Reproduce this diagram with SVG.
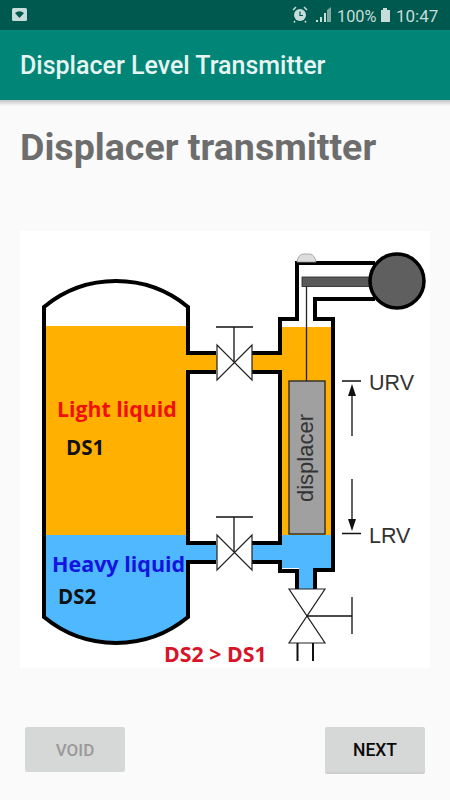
<svg xmlns="http://www.w3.org/2000/svg" width="450" height="800" viewBox="0 0 450 800">
<style>
.r{font-family:Roboto,"Liberation Sans",sans-serif}
.c{font-family:"Open Sans","Liberation Sans",sans-serif;font-weight:700}
.w{fill:none;stroke:#000;stroke-width:4;stroke-linejoin:miter}
.t{fill:none;stroke:#111;stroke-width:1.3}
.v{fill:#fff;stroke:#222;stroke-width:1.2;stroke-linejoin:miter}
.g{font-family:"Liberation Sans",sans-serif;fill:#333}
</style>
<defs>
<linearGradient id="sh" x1="0" y1="0" x2="0" y2="1"><stop offset="0" stop-color="#000" stop-opacity=".22"/><stop offset="1" stop-color="#000" stop-opacity="0"/></linearGradient>
<clipPath id="vc"><path d="M44 307A113 113 0 0 1 188 307V617A113 113 0 0 1 44 617Z"/></clipPath>
</defs>
<rect width="450" height="800" fill="#fafafa"/>
<g id="status-bar">
<rect width="450" height="30" fill="#00594e"/>
<rect x="12" y="8" width="15" height="13" rx="1.5" fill="#c6ddd9"/>
<path d="M15 13Q19.500 9.500 24 13L19.500 18Z" fill="#00594e"/>
<circle cx="300" cy="15" r="6" fill="#c6ddd9"/>
<path d="M293 10l3-3M307 10l-3-3M295 21l-1 1.500M305 21l1 1.500" stroke="#c6ddd9" stroke-width="1.500"/>
<path d="M300 11.500V15.500H303" fill="none" stroke="#00594e" stroke-width="1.200"/>
<path d="M316 22h2v-2h-2zM320 22h2v-5h-2zM324 22h2v-9h-2z" fill="#c6ddd9"/>
<path d="M327 22V10l4-3V22Z" fill="#7fa8a1"/>
<text x="337" y="22" class="r" font-size="16.300" fill="#c6ddd9">100%</text>
<path d="M381 10h2v-2h4v2h3V22H381Z" fill="#c6ddd9"/>
<text x="396" y="22" class="r" font-size="17" fill="#c6ddd9">10:47</text>
</g>
<g id="app-bar">
<rect y="100" width="450" height="6" fill="url(#sh)"/>
<rect y="30" width="450" height="70" fill="#008577"/>
<text x="20" y="74" class="r" font-size="25" font-weight="500" fill="#e6f4f2">Displacer Level Transmitter</text>
</g>
<text id="title" x="20" y="160" class="r" font-size="37.600" font-weight="700" fill="#6d6d6d">Displacer transmitter</text>
<rect id="picture" x="20" y="231" width="410" height="437" fill="#fff"/>
<g id="vessel">
<g clip-path="url(#vc)">
<rect x="44" y="326" width="144" height="209" fill="#ffb000"/>
<rect x="44" y="535" width="144" height="110" fill="#4fb8ff"/>
</g>
<rect x="186" y="355" width="32" height="15" fill="#ffb000"/>
<rect x="186" y="545" width="32" height="15" fill="#4fb8ff"/>
<path class="w" d="M216 353H188V307A113 113 0 0 0 44 307V617A113 113 0 0 0 188 617V562H216M216 372H188V543H216"/>
<text x="57" y="417" class="c" font-size="21.300" fill="#f01010">Light liquid</text>
<text x="66" y="455" class="c" font-size="20.500" fill="#111">DS1</text>
<text x="52" y="572" class="c" font-size="21.500" fill="#1414e0">Heavy liquid</text>
<text x="58" y="604" class="c" font-size="20.500" fill="#111">DS2</text>
</g>
<g id="chamber">
<path d="M282 327H331V535H282Z" fill="#ffb000"/>
<path d="M282 535H331V568H313V589H299V568H282Z" fill="#4fb8ff"/>
<rect x="252" y="355" width="30" height="15" fill="#ffb000"/>
<rect x="252" y="545" width="30" height="15" fill="#4fb8ff"/>
<path class="w" d="M252 353H280V319H297V263H375M252 372H280V543H252M252 562H280V571H297V589M315 589V570H333V319H315V299H375"/>
<path d="M297 262Q298 254 304 254H310Q315 255 316 262Z" fill="#ddd" stroke="#999" stroke-width=".8"/>
</g>
<g id="displacer">
<line x1="306.500" y1="286" x2="306.500" y2="381" stroke="#222" stroke-width="1.300"/>
<rect x="289" y="381" width="36" height="153" fill="#a0a0a0" stroke="#222" stroke-width="1.300"/>
<text transform="translate(313 458) rotate(-90)" class="g" text-anchor="middle" font-size="22">displacer</text>
</g>
<g id="transmitter">
<rect x="302" y="277" width="70" height="9.500" fill="#5a5a5a" stroke="#222" stroke-width=".8"/>
<circle cx="397" cy="281" r="27" fill="#5f5f5f" stroke="#000" stroke-width="3.500"/>
</g>
<g id="valve-upper">
<path class="v" d="M217 345V380L252 345V380Z"/>
<path class="t" d="M234 362V327M216 327H253"/>
</g>
<g id="valve-lower">
<path class="v" d="M217 535V570L252 535V570Z"/>
<path class="t" d="M234 552V517M216 517H253"/>
</g>
<g id="valve-drain">
<path class="v" d="M289 589H325L289 643H325Z"/>
<path class="t" d="M306.500 616H352M352 597V634"/>
<path d="M297.500 643V661M313 643V661" fill="none" stroke="#111" stroke-width="2"/>
</g>
<g id="connectors">
<path class="t" d="M342 381H361M352 392V436M342 533.500H361M352 479V522"/>
<path d="M352 384L356 396H348ZM352 531L356 519H348Z" fill="#111"/>
</g>
<g id="labels">
<text x="369" y="390" class="g" font-size="21.500">URV</text>
<text x="369" y="543" class="g" font-size="21.500">LRV</text>
<text x="164" y="662" class="c" font-size="21.300" fill="#d81428">DS2 &gt; DS1</text>
</g>
<g id="void">
<rect x="25" y="727" width="100" height="45" rx="2" fill="#d6d7d7"/>
<text x="75" y="756" class="r" font-size="17" font-weight="500" fill="#9a9a9a" text-anchor="middle">VOID</text>
</g>
<g id="next">
<rect x="325" y="729" width="100" height="45" rx="2" fill="#bbb" opacity=".7"/>
<rect x="325" y="727" width="100" height="45" rx="2" fill="#d6d7d7"/>
<text x="375" y="756" class="r" font-size="17.500" font-weight="500" fill="#0a0a0a" text-anchor="middle">NEXT</text>
</g>
</svg>
